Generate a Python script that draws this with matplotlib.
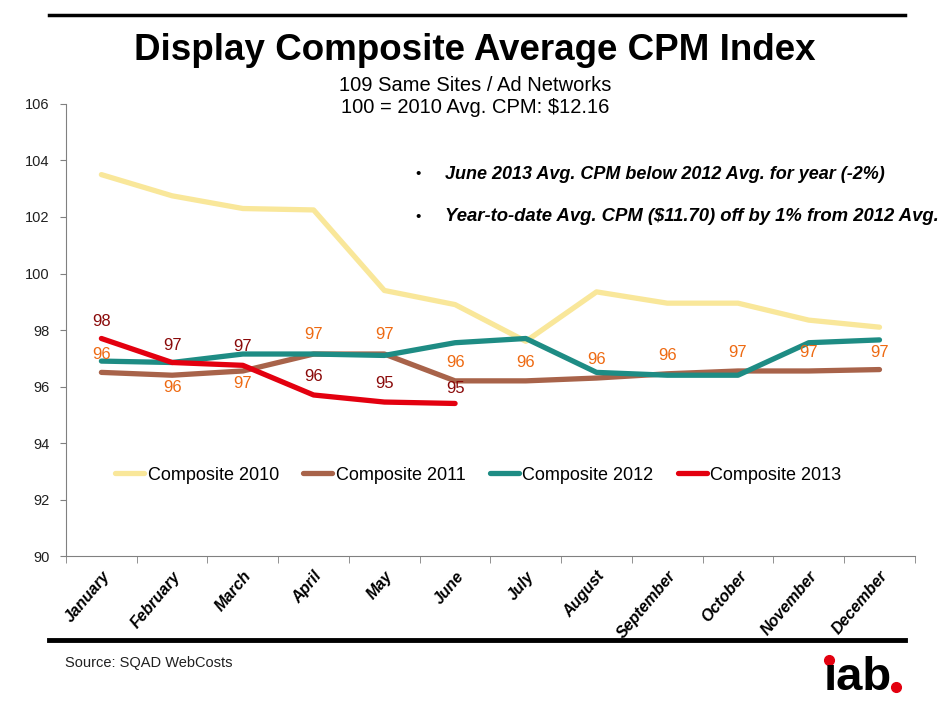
import matplotlib
matplotlib.use('Agg')
import matplotlib.pyplot as plt
import numpy as np

plt.rcParams['font.family'] = ['Liberation Sans', 'DejaVu Sans']

months = ['January', 'February', 'March', 'April', 'May', 'June', 'July',
          'August', 'September', 'October', 'November', 'December']

c2010 = [103.5, 102.75, 102.3, 102.25, 99.4, 98.9, 97.6, 99.35, 98.95, 98.95, 98.35, 98.1]
c2011 = [96.5, 96.4, 96.55, 97.15, 97.15, 96.2, 96.2, 96.3, 96.45, 96.55, 96.55, 96.6]
c2012 = [96.9, 96.85, 97.15, 97.15, 97.1, 97.55, 97.7, 96.5, 96.4, 96.4, 97.55, 97.65]
c2013 = [97.7, 96.85, 96.75, 95.7, 95.45, 95.4]

lab2011 = ['96', '96', '97', '97', '97', '96', '96', '96', '96', '97', '97', '97']
lab2013 = ['98', '97', '97', '96', '95', '95']

# label offsets in points (dy)
off2011 = [13, -9, -9, 14, 14, 13.5, 13, 13, 13, 13.5, 13.5, 12.5]
off2013 = [12, 12.5, 13.5, 13, 13.5, 11]

fig = plt.figure(figsize=(9.5, 7.05), dpi=100)
ax = fig.add_axes([0.0695, 0.2113, 0.8935, 0.6412])

x = np.arange(12)
ax.plot(x, c2010, color='#F9E79A', lw=3.8, label='Composite 2010', solid_capstyle='round')
ax.plot(x, c2011, color='#A8634A', lw=3.8, label='Composite 2011', solid_capstyle='round')
ax.plot(x, c2012, color='#1E8C84', lw=3.8, label='Composite 2012', solid_capstyle='round')
ax.plot(np.arange(len(c2013)), c2013, color='#E3000F', lw=3.8, label='Composite 2013',
        solid_capstyle='round')

for i, t in enumerate(lab2011):
    ax.annotate(t, (i, c2011[i]), xytext=(0, off2011[i]), textcoords='offset points',
                ha='center', va='center', fontsize=12, color='#EE6A12')
for i, t in enumerate(lab2013):
    ax.annotate(t, (i, c2013[i]), xytext=(0, off2013[i]), textcoords='offset points',
                ha='center', va='center', fontsize=12, color='#8A0A0A')

ax.set_xlim(-0.5, 11.5)
ax.set_ylim(90, 106)
ax.set_yticks(range(90, 107, 2))
ax.set_xticks(x)
ax.set_xticklabels(months, rotation=50, ha='right', rotation_mode='anchor',
                   fontsize=11.5, fontweight='bold', fontstyle='italic')
ax.set_xticks(np.arange(-0.5, 12, 1), minor=True)
ax.tick_params(axis='x', which='major', length=0, pad=9)
ax.tick_params(axis='x', which='minor', length=5, color='#808080')
ax.tick_params(axis='y', length=4, color='#808080', labelsize=10.5, labelcolor='#202020', pad=8)
for s in ['top', 'right']:
    ax.spines[s].set_visible(False)
ax.spines['left'].set_color('#808080')
ax.spines['bottom'].set_color('#808080')

ax.legend(loc='center left', bbox_to_anchor=(0.0577, 0.179), ncol=4, frameon=False,
          fontsize=13, handlelength=1.6, handletextpad=0.2, columnspacing=1.35,
          borderaxespad=0, borderpad=0)

ax.text(0.411, 0.845, '\u2022', transform=ax.transAxes, fontsize=11, va='center')
ax.text(0.4464, 0.845, 'June 2013 Avg. CPM below 2012 Avg. for year (-2%)', transform=ax.transAxes,
        fontsize=13, fontweight='bold', fontstyle='italic', va='center')
ax.text(0.411, 0.75, '\u2022', transform=ax.transAxes, fontsize=11, va='center')
ax.text(0.4464, 0.75, 'Year-to-date Avg. CPM ($11.70) off by 1% from 2012 Avg.', transform=ax.transAxes,
        fontsize=13.3, fontweight='bold', fontstyle='italic', va='center', clip_on=False)

fig.text(0.5, 0.929, 'Display Composite Average CPM Index', ha='center', va='center',
         fontsize=26.5, fontweight='bold')
fig.text(0.5, 0.879, '109 Same Sites / Ad Networks', ha='center', va='center', fontsize=14.5)
fig.text(0.5, 0.847, '100 = 2010 Avg. CPM: $12.16', ha='center', va='center', fontsize=14.5)

fig.add_artist(plt.Line2D([0.052, 0.953], [0.979, 0.979], color='black', lw=2.5))
fig.add_artist(plt.Line2D([0.052, 0.953], [0.092, 0.092], color='black', lw=3.5))
fig.text(0.068, 0.059, 'Source: SQAD WebCosts', fontsize=10.5, color='#202020', va='center')

# iab logo
fig.text(0.867, 0.021, '\u0131ab', fontsize=34, fontweight='bold', color='black', va='baseline')
fig.add_artist(plt.Line2D([0.8725, 0.943], [0.064, 0.025], transform=fig.transFigure,
                          ls='none', marker='o', ms=7, color='#E3000F'))

fig.savefig('out.png', dpi=100)
